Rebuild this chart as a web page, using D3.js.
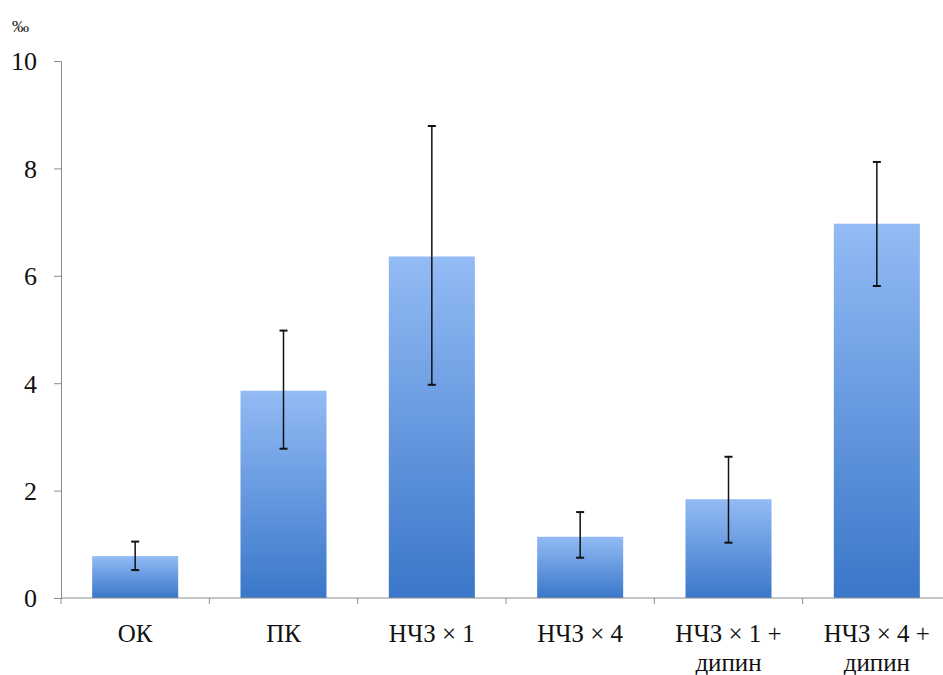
<!DOCTYPE html>
<html><head><meta charset="utf-8">
<script src="https://cdn.jsdelivr.net/npm/d3@7"></script>
<style>svg text, svg tspan{font-family:"Liberation Serif" !important}</style>
</head><body style="margin:0;background:#fff">
<script>
const categories = [["ОК"],["ПК"],["НЧЗ × 1"],["НЧЗ × 4"],["НЧЗ × 1 +","дипин"],["НЧЗ × 4 +","дипин"]];
const values = [0.78, 3.86, 6.36, 1.14, 1.84, 6.97];
const errLow = [0.52, 2.78, 3.97, 0.75, 1.03, 5.81];
const errHigh = [1.05, 4.98, 8.79, 1.60, 2.63, 8.12];
const yTicks = [0, 2, 4, 6, 8, 10];
const unitLabel = "‰";

const FONT = "Liberation Serif";
const W = 943, H = 675;
const svg = d3.select("body").append("svg").attr("width", W).attr("height", H).style("display","block");
const defs = svg.append("defs");
const g = defs.append("linearGradient").attr("id","bg").attr("x1",0).attr("y1",0).attr("x2",0).attr("y2",1);
g.append("stop").attr("offset","0%").attr("stop-color","#93bbf5");
g.append("stop").attr("offset","100%").attr("stop-color","#3a77c9");

const x = d3.scaleBand().domain(d3.range(categories.length)).range([61, 951]).paddingInner(0.42).paddingOuter(0.21);
const y = d3.scaleLinear().domain([0, 10]).range([598, 61]);

// bars
svg.append("g").selectAll("rect").data(values).join("rect")
  .attr("x", (d,i) => x(i)).attr("width", x.bandwidth())
  .attr("y", d => y(d)).attr("height", d => y(0) - y(d))
  .attr("fill", "url(#bg)");

// y axis
const ya = svg.append("g").attr("transform","translate(61,0)")
  .call(d3.axisLeft(y).tickValues(yTicks).tickSize(7).tickPadding(17));
ya.attr("font-family", FONT).attr("font-size", 26);
ya.select(".domain").attr("stroke","#8c8c8c");
ya.selectAll(".tick line").attr("stroke","#8c8c8c");
ya.selectAll("text").attr("font-family", FONT).attr("font-size",26).attr("fill","#111").attr("dy","0.34em");

// x axis
const bounds = d3.range(categories.length+1).map(i => 61 + i*(890/categories.length));
svg.append("line").attr("x1",61).attr("x2",951).attr("y1",y(0)).attr("y2",y(0)).attr("stroke","#8c8c8c");
svg.append("g").selectAll("line").data(bounds).join("line")
  .attr("x1",d=>d).attr("x2",d=>d).attr("y1",y(0)).attr("y2",y(0)+6).attr("stroke","#8c8c8c");

const lab = svg.append("g").selectAll("text").data(categories).join("text")
  .attr("x",(d,i)=>x(i)+x.bandwidth()/2).attr("y",642)
  .attr("text-anchor","middle").attr("font-family", FONT).attr("font-size",25).attr("fill","#111");
lab.each(function(d){
  const t = d3.select(this);
  d.forEach((s,k)=>{ t.append("tspan").attr("x", t.attr("x")).attr("dy", k===0?0:29).text(s); });
});

// error bars
const eb = svg.append("g").attr("stroke","#111").attr("stroke-width",1.5);
values.forEach((v,i)=>{
  const cx = x(i)+x.bandwidth()/2;
  eb.append("line").attr("x1",cx).attr("x2",cx).attr("y1",y(errLow[i])).attr("y2",y(errHigh[i]));
  eb.append("line").attr("x1",cx-4).attr("x2",cx+4).attr("y1",y(errLow[i])).attr("y2",y(errLow[i])).attr("stroke-width",2);
  eb.append("line").attr("x1",cx-4).attr("x2",cx+4).attr("y1",y(errHigh[i])).attr("y2",y(errHigh[i])).attr("stroke-width",2);
});

svg.append("text").attr("x",12).attr("y",32).attr("font-family", FONT).attr("font-size",17).attr("fill","#111").text(unitLabel);

svg.selectAll("text, tspan").each(function(){ this.style.setProperty("font-family", FONT, "important"); });
</script>
</body></html>
